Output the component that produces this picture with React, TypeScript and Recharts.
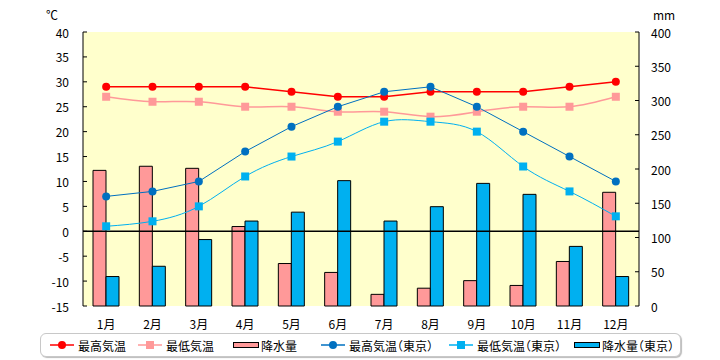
import React from 'react'
import {
  ComposedChart,
  Bar,
  Line,
  XAxis,
  YAxis,
  CartesianGrid,
  ReferenceLine
} from 'recharts'

const months = ['1月', '2月', '3月', '4月', '5月', '6月', '7月', '8月', '9月', '10月', '11月', '12月']
const maxTemp = [29, 29, 29, 29, 28, 27, 27, 28, 28, 28, 29, 30]
const minTemp = [27, 26, 26, 25, 25, 24, 24, 23, 24, 25, 25, 27]
const rain = [198, 204, 201, 116, 62, 49, 17, 26, 37, 30, 65, 166]
const maxTempTokyo = [7, 8, 10, 16, 21, 25, 28, 29, 25, 20, 15, 10]
const minTempTokyo = [1, 2, 5, 11, 15, 18, 22, 22, 20, 13, 8, 3]
const rainTokyo = [43, 58, 97, 124, 137, 183, 124, 145, 179, 163, 87, 43]
const tempTicks = [-15, -10, -5, 0, 5, 10, 15, 20, 25, 30, 35, 40]
const rainTicks = [0, 50, 100, 150, 200, 250, 300, 350, 400]

const data = months.map((m, i) => ({
  month: m,
  maxTemp: maxTemp[i],
  minTemp: minTemp[i],
  rain: rain[i],
  maxTempTokyo: maxTempTokyo[i],
  minTempTokyo: minTempTokyo[i],
  rainTokyo: rainTokyo[i]
}))

const font = '"Noto Sans CJK JP", "Noto Sans", sans-serif'

const LeftTick = (props: any) => {
  const { x, y, payload } = props
  return (
    <g>
      <line x1={x} x2={x + 4} y1={y} y2={y} stroke="#000" />
      <text x={x - 14} y={y} textAnchor="end" dominantBaseline="central" fontSize={12} fill="#000" fontFamily={font}>
        {payload.value}
      </text>
    </g>
  )
}

const RightTick = (props: any) => {
  const { x, y, payload } = props
  return (
    <g>
      <line x1={x - 4} x2={x} y1={y} y2={y} stroke="#000" />
      <text x={x + 12} y={y} textAnchor="start" dominantBaseline="central" fontSize={12} fill="#000" fontFamily={font}>
        {payload.value}
      </text>
    </g>
  )
}

const square = (color: string) => (props: any) => {
  const { cx, cy, index } = props
  return <rect key={index} x={cx - 4} y={cy - 4} width={8} height={8} fill={color} />
}

const legendItems = [
  { label: '最高気温', type: 'line', color: '#FF0000', marker: 'circle', left: 50 },
  { label: '最低気温', type: 'line', color: '#FF9999', marker: 'square', left: 138 },
  { label: '降水量', type: 'bar', color: '#FF9999', left: 233 },
  { label: '最高気温（東京）', type: 'line', color: '#0070C0', marker: 'circle', left: 321 },
  { label: '最低気温（東京）', type: 'line', color: '#00B0F0', marker: 'square', left: 449 },
  { label: '降水量（東京）', type: 'bar', color: '#00B0F0', left: 574 }
]

function LegendBox() {
  return (
    <div
      style={{
        position: 'absolute',
        left: 40,
        top: 333,
        width: 639,
        height: 22,
        border: '1px solid #c8c8c8',
        borderRadius: 6,
        boxShadow: '1px 1px 1px #bbb',
        background: '#fff'
      }}
    >
      {legendItems.map((it) => (
        <div
          key={it.label}
          style={{
            position: 'absolute',
            left: it.left - 41,
            top: 0,
            height: 22,
            display: 'flex',
            alignItems: 'center',
            fontFamily: font,
            fontSize: 12,
            fontFeatureSettings: '"halt"',
            color: '#000',
            whiteSpace: 'nowrap'
          }}
        >
          <svg width={26} height={10} style={{ marginRight: 2 }}>
            {it.type === 'bar' ? (
              <rect x={0.5} y={2.5} width={25} height={5} fill={it.color} stroke="#000" />
            ) : (
              <>
                <line x1={0} x2={24} y1={5} y2={5} stroke={it.color} strokeWidth={1.5} />
                {it.marker === 'circle' ? (
                  <circle cx={12} cy={5} r={4} fill={it.color} />
                ) : (
                  <rect x={8} y={1} width={8} height={8} fill={it.color} />
                )}
              </>
            )}
          </svg>
          {it.label}
        </div>
      ))}
    </div>
  )
}

export default function App() {
  return (
    <div style={{ position: 'absolute', left: 0, top: 0, width: 720, height: 360, background: '#fff' }}>
      <div style={{ position: 'absolute', left: 46, top: 6, fontFamily: font, fontSize: 12 }}>℃</div>
      <div style={{ position: 'absolute', left: 653, top: 6, fontFamily: font, fontSize: 12 }}>mm</div>
      <ComposedChart
        width={720}
        height={360}
        data={data}
        margin={{ top: 32, right: 0, bottom: 34, left: 0 }}
        barGap={0}
        barCategoryGap="22%"
      >
        <CartesianGrid horizontal={false} vertical={false} fill="#FFFFCC" />
        <XAxis
          dataKey="month"
          axisLine={false}
          tickLine={false}
          height={20}
          tickMargin={8}
          tick={{ fontSize: 12, fill: '#000', fontFamily: font }}
          interval={0}
        />
        <YAxis
          yAxisId="left"
          orientation="left"
          domain={[-15, 40]}
          ticks={tempTicks}
          width={83}
          tickSize={0}
          tickMargin={0}
          axisLine={{ stroke: '#000' }}
          tickLine={false}
          tick={<LeftTick />}
          interval={0}
        />
        <YAxis
          yAxisId="right"
          orientation="right"
          domain={[0, 400]}
          ticks={rainTicks}
          width={81}
          tickSize={0}
          tickMargin={0}
          axisLine={{ stroke: '#000' }}
          tickLine={false}
          tick={<RightTick />}
          interval={0}
        />
        <Bar yAxisId="right" dataKey="rain" fill="#FF9999" stroke="#000" strokeWidth={1} barSize={13} isAnimationActive={false} />
        <Bar yAxisId="right" dataKey="rainTokyo" fill="#00B0F0" stroke="#000" strokeWidth={1} barSize={13} isAnimationActive={false} />
        <ReferenceLine yAxisId="left" y={0} stroke="#000" strokeWidth={1.5} />
        <Line
          yAxisId="left"
          dataKey="minTemp"
          type="natural"
          stroke="#FF9999"
          strokeWidth={1.5}
          dot={square('#FF9999')}
          isAnimationActive={false}
        />
        <Line
          yAxisId="left"
          dataKey="maxTemp"
          type="linear"
          stroke="#FF0000"
          strokeWidth={1.5}
          dot={{ r: 4, fill: '#FF0000', stroke: 'none' }}
          isAnimationActive={false}
        />
        <Line
          yAxisId="left"
          dataKey="minTempTokyo"
          type="natural"
          stroke="#00B0F0"
          strokeWidth={1}
          dot={square('#00B0F0')}
          isAnimationActive={false}
        />
        <Line
          yAxisId="left"
          dataKey="maxTempTokyo"
          type="linear"
          stroke="#0070C0"
          strokeWidth={1}
          dot={{ r: 4, fill: '#0070C0', stroke: 'none' }}
          isAnimationActive={false}
        />
      </ComposedChart>
      <LegendBox />
    </div>
  )
}
